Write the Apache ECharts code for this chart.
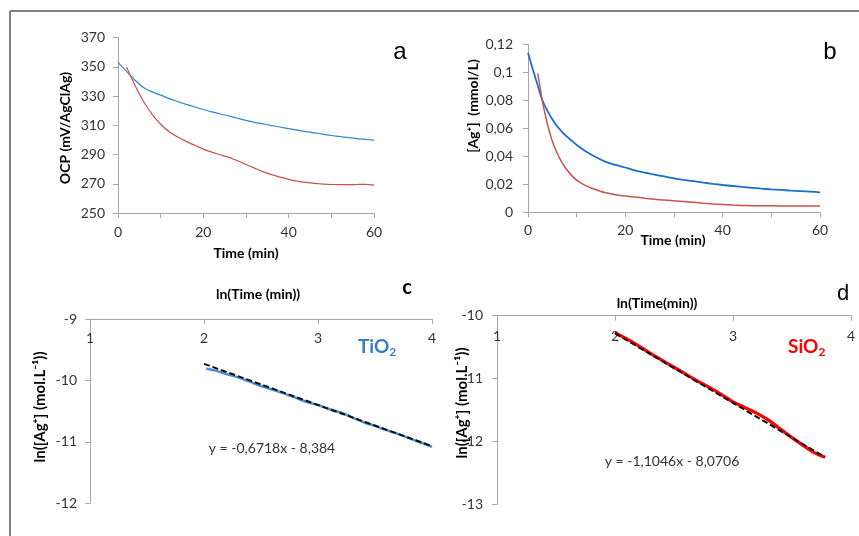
<!DOCTYPE html>
<html>
<head>
<meta charset="utf-8">
<script src="https://cdn.jsdelivr.net/npm/echarts@6/dist/echarts.min.js"></script>
<style>
html,body{margin:0;padding:0;background:#fff;}
#chart{width:859px;height:536px;}
</style>
</head>
<body>
<div id="chart"></div>
<script>
// ---- Panel a: OCP vs time ----
var timeABlue = [0,2,4,6,8,10,12,14,16,18,20,22,24,26,28,30,32,34,36,38,40,42,44,46,48,50,52,54,56,58,60];
var ocpBlue   = [353,346.8,340.8,335.8,332.8,330.6,328.2,326.2,324.3,322.5,320.8,319.1,317.7,316.3,314.8,313.3,312,310.9,309.8,308.8,307.7,306.7,305.7,304.8,303.9,303,302.3,301.5,300.8,300.3,299.8];
var timeARed  = [2,3,4,5,6,7,8,9,10,12,14,16,18,20,22,24,26,28,30,32,34,36,38,40,42,44,46,48,50,52,54,56,58,60];
var ocpRed    = [349.8,343.5,337.2,331.4,326.2,321.6,317.5,313.9,310.7,305.6,302,299,296.3,293.7,291.6,289.8,288,285.7,283.2,280.7,278.3,276.2,274.5,273,271.8,270.9,270.2,269.8,269.5,269.4,269.4,269.5,269.6,269];
var ticksA = [250,270,290,310,330,350,370];

// ---- Panel b: [Ag+] vs time ----
var timeBBlue = [0,1,2,3,4,5,6,7,8,9,10,12,14,16,18,20,22,24,26,28,30,32,34,36,38,40,42,44,46,48,50,52,54,56,58,60];
var agBlue    = [0.114,0.102,0.0905,0.0797,0.0725,0.0665,0.0615,0.0575,0.054,0.051,0.0481,0.0433,0.0393,0.036,0.0338,0.032,0.0299,0.0283,0.0269,0.0256,0.0243,0.0232,0.0222,0.0212,0.0203,0.0195,0.0188,0.0181,0.0175,0.0169,0.0164,0.016,0.0155,0.0151,0.0147,0.0143];
var timeBRed  = [2,2.5,3,3.5,4,5,6,7,8,9,10,11,12,13,14,16,18,20,22,24,26,28,30,32,34,36,38,40,42,44,46,48,50,55,60];
var agRed     = [0.0993,0.089,0.0785,0.0705,0.0628,0.0508,0.0422,0.0355,0.0302,0.0262,0.023,0.0207,0.0189,0.0174,0.0161,0.0139,0.0126,0.0116,0.0109,0.0101,0.0094,0.0087,0.0082,0.0077,0.0071,0.0065,0.006,0.0056,0.0052,0.0049,0.0047,0.0046,0.0046,0.0045,0.0045];

// ---- Panel c: ln plot TiO2 ----
var lnTimeC = [2.02,2.1,2.2,2.3,2.4,2.5,2.6,2.7,2.8,2.9,3.0,3.1,3.2,3.3,3.4,3.5,3.6,3.7,3.8,3.9,4.0];
var lnAgC   = [-9.81,-9.84,-9.9,-9.95,-10.02,-10.09,-10.15,-10.21,-10.28,-10.35,-10.40,-10.47,-10.52,-10.6,-10.68,-10.74,-10.81,-10.87,-10.94,-11.01,-11.08];
var trendCx = [2.0,4.0];
var trendCy = [-9.73,-11.07];

// ---- Panel d: ln plot SiO2 ----
var lnTimeD = [2.0,2.1,2.2,2.3,2.4,2.5,2.6,2.7,2.8,2.9,3.0,3.1,3.2,3.3,3.4,3.5,3.6,3.7,3.78];
var lnAgD   = [-10.27,-10.37,-10.48,-10.6,-10.71,-10.82,-10.93,-11.04,-11.14,-11.25,-11.37,-11.46,-11.55,-11.66,-11.8,-11.94,-12.07,-12.19,-12.25];
var trendDx = [2.0,3.78];
var trendDy = [-10.28,-12.25];

function zip(xs, ys){ return xs.map(function(x,i){ return [x, ys[i]]; }); }

var axisColor = '#a6a6a6';
var labelColor = '#333';
var FONT = 'Lato, "Open Sans", sans-serif';

function baseAxis(extra){
  var o = {
    type:'value',
    splitLine:{show:false},
    axisLine:{show:true, onZero:false, lineStyle:{color:axisColor, width:1}},
    axisTick:{show:true, length:5, lineStyle:{color:axisColor}},
    axisLabel:{color:labelColor, fontFamily:FONT, fontSize:14}
  };
  for (var k in extra){
    if (typeof extra[k]==='object' && o[k] && !Array.isArray(extra[k])) {
      for (var j in extra[k]) o[k][j] = extra[k][j];
    } else o[k] = extra[k];
  }
  return o;
}
function comma(v){ return String(v).replace('.', ','); }

var chart = echarts.init(document.getElementById('chart'), null, {renderer:'canvas'});

var TITLE = 'bold 14px Lato, sans-serif';
var option = {
  animation:false,
  backgroundColor:'#fff',
  grid:[
    {left:118, top:37.5, width:256, height:175.5},
    {left:528, top:44.3, width:292, height:168},
    {left:90, top:319, width:342, height:184.3},
    {left:497, top:315.7, width:354, height:188.6}
  ],
  xAxis:[
    baseAxis({gridIndex:0, min:0, max:60, interval:10,
      axisLabel:{margin:12, formatter:function(v){ return v%20===0 ? v : ''; }}}),
    baseAxis({gridIndex:1, min:0, max:60, interval:10,
      axisLabel:{margin:11, formatter:function(v){ return v%20===0 ? v : ''; }}}),
    baseAxis({gridIndex:2, min:1, max:4, interval:1, position:'top',
      axisTick:{inside:true}, axisLabel:{inside:true, margin:12}}),
    baseAxis({gridIndex:3, min:1, max:4, interval:1, position:'top',
      axisTick:{inside:true}, axisLabel:{inside:true, margin:14}})
  ],
  yAxis:[
    baseAxis({gridIndex:0, min:ticksA[0], max:ticksA[ticksA.length-1], interval:20,
      axisLabel:{margin:13}}),
    baseAxis({gridIndex:1, min:0, max:0.12, interval:0.02,
      axisLabel:{margin:15, formatter:function(v){ return comma(+v.toFixed(2)); }}}),
    baseAxis({gridIndex:2, min:-12, max:-9, interval:1, axisLabel:{margin:13}}),
    baseAxis({gridIndex:3, min:-13, max:-10, interval:1, axisLabel:{margin:14}})
  ],
  series:[
    {type:'line', xAxisIndex:0, yAxisIndex:0, data:zip(timeABlue, ocpBlue), smooth:0.3, showSymbol:false,
      lineStyle:{color:'#2e86d1', width:1.2}},
    {type:'line', xAxisIndex:0, yAxisIndex:0, data:zip(timeARed, ocpRed), smooth:0.3, showSymbol:false,
      lineStyle:{color:'#c9524e', width:1.2}},
    {type:'line', xAxisIndex:1, yAxisIndex:1, data:zip(timeBBlue, agBlue), smooth:0.3, showSymbol:false,
      lineStyle:{color:'#1a6fc9', width:1.8}},
    {type:'line', xAxisIndex:1, yAxisIndex:1, data:zip(timeBRed, agRed), smooth:0.3, showSymbol:false,
      lineStyle:{color:'#c9524e', width:1.5}},
    {type:'line', xAxisIndex:2, yAxisIndex:2, data:zip(lnTimeC, lnAgC), smooth:0.3, showSymbol:false,
      lineStyle:{color:'#4f8fd6', width:2.5}},
    {type:'line', xAxisIndex:2, yAxisIndex:2, data:zip(trendCx, trendCy), showSymbol:false,
      lineStyle:{color:'#111', width:2, type:[6,3]}},
    {type:'line', xAxisIndex:3, yAxisIndex:3, data:zip(lnTimeD, lnAgD), smooth:0.3, showSymbol:false,
      lineStyle:{color:'#ff0000', width:3.2}},
    {type:'line', xAxisIndex:3, yAxisIndex:3, data:zip(trendDx, trendDy), showSymbol:false,
      lineStyle:{color:'#111', width:2, type:[6,3]}, z:3}
  ],
  graphic:[
    // frame
    {type:'line', shape:{x1:10, y1:11, x2:859, y2:11}, style:{stroke:'#808080', lineWidth:2}},
    {type:'line', shape:{x1:10, y1:11, x2:10, y2:536}, style:{stroke:'#808080', lineWidth:2}},
    // panel letters
    {type:'text', x:400, y:52, style:{text:'a', font:'24px "Liberation Sans", Arial, sans-serif', fill:'#000', textAlign:'center', textVerticalAlign:'middle'}},
    {type:'text', x:830, y:52, style:{text:'b', font:'24px "Liberation Sans", Arial, sans-serif', fill:'#000', textAlign:'center', textVerticalAlign:'middle'}},
    {type:'text', x:407, y:288, style:{text:'c', font:'bold 20px Lato, sans-serif', fill:'#000', textAlign:'center', textVerticalAlign:'middle'}},
    {type:'text', x:843, y:294, style:{text:'d', font:'22px "Liberation Sans", Arial, sans-serif', fill:'#000', textAlign:'center', textVerticalAlign:'middle'}},
    // axis titles
    {type:'text', x:65, y:128, rotation:Math.PI/2, style:{text:'OCP (mV/AgClAg)', font:TITLE, fill:'#000', textAlign:'center', textVerticalAlign:'middle'}},
    {type:'text', x:246, y:253, style:{text:'Time (min)', font:TITLE, fill:'#000', textAlign:'center', textVerticalAlign:'middle'}},
    {type:'text', x:473, y:106, rotation:Math.PI/2, style:{text:'[Ag\u207A]  (mmol/L)', font:TITLE, fill:'#000', textAlign:'center', textVerticalAlign:'middle'}},
    {type:'text', x:673, y:240, style:{text:'Time (min)', font:TITLE, fill:'#000', textAlign:'center', textVerticalAlign:'middle'}},
    {type:'text', x:258, y:294, style:{text:'ln(Time (min))', font:TITLE, fill:'#000', textAlign:'center', textVerticalAlign:'middle'}},
    {type:'text', x:40, y:407, rotation:Math.PI/2, style:{text:'ln([Ag\u207A] (mol.L\u207B\u00B9))', font:'bold 15px Lato, sans-serif', fill:'#000', textAlign:'center', textVerticalAlign:'middle'}},
    {type:'text', x:657, y:303, style:{text:'ln(Time(min))', font:TITLE, fill:'#000', textAlign:'center', textVerticalAlign:'middle'}},
    {type:'text', x:462, y:403, rotation:Math.PI/2, style:{text:'ln([Ag\u207A] (mol.L\u207B\u00B9))', font:'bold 15px Lato, sans-serif', fill:'#000', textAlign:'center', textVerticalAlign:'middle'}},
    // equations
    {type:'text', x:272, y:448, style:{text:'y = -0,6718x - 8,384', font:'14px Lato, sans-serif', fill:'#333', textAlign:'center', textVerticalAlign:'middle'}},
    {type:'text', x:672, y:461, style:{text:'y = -1,1046x - 8,0706', font:'14px Lato, sans-serif', fill:'#333', textAlign:'center', textVerticalAlign:'middle'}},
    // material labels
    {type:'text', x:358, y:347, style:{text:'{m|TiO}{s|2}', textAlign:'left', textVerticalAlign:'middle',
      rich:{m:{font:'bold 19px Lato, sans-serif', fill:'#3a7dc4'}, s:{font:'bold 12px Lato, sans-serif', fill:'#3a7dc4', padding:[10,0,0,0]}}}},
    {type:'text', x:788, y:347, style:{text:'{m|SiO}{s|2}', textAlign:'left', textVerticalAlign:'middle',
      rich:{m:{font:'bold 19px Lato, sans-serif', fill:'#ff0000'}, s:{font:'bold 12px Lato, sans-serif', fill:'#ff0000', padding:[10,0,0,0]}}}}
  ]
};
chart.setOption(option);
</script>
</body>
</html>
